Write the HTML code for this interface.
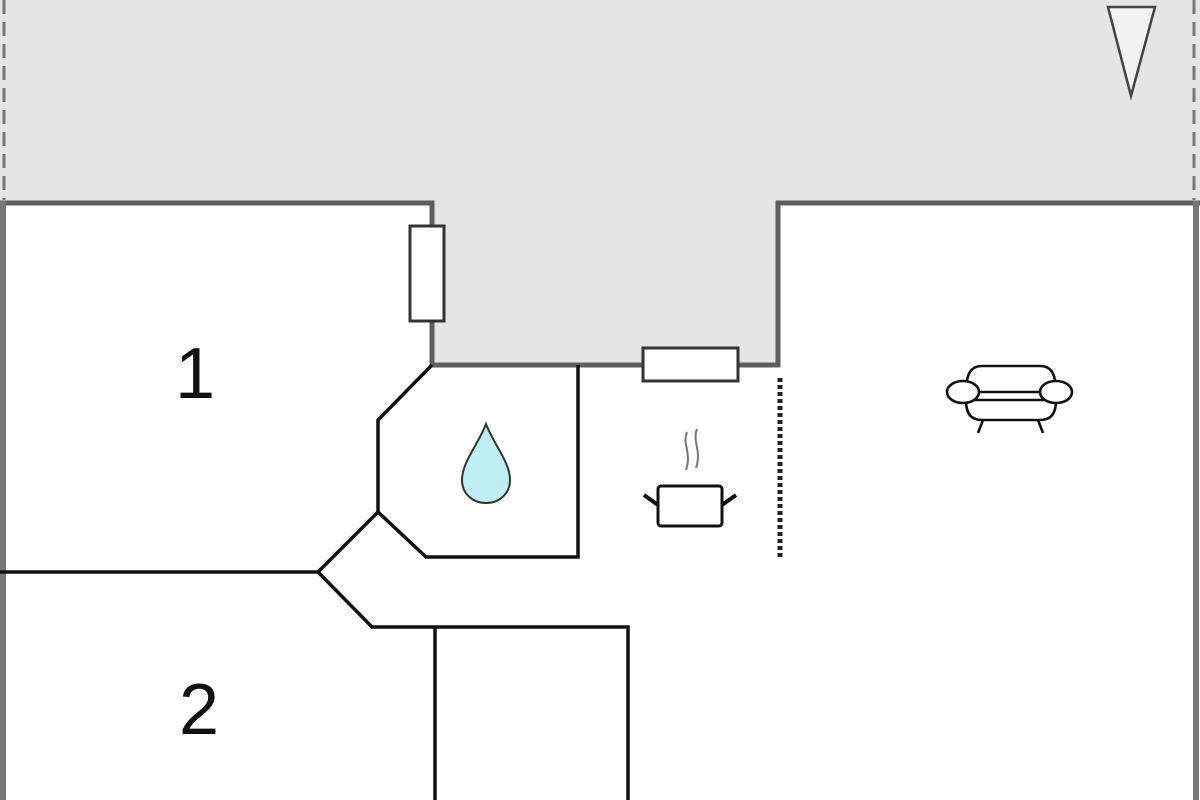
<!DOCTYPE html>
<html><head><meta charset="utf-8"><style>html,body{margin:0;padding:0;background:#fff}svg{display:block}</style></head>
<body>
<svg width="1200" height="800" viewBox="0 0 1200 800" xmlns="http://www.w3.org/2000/svg">
<rect x="0" y="0" width="1200" height="203" fill="#e5e5e5"/>
<rect x="432" y="200" width="346" height="165" fill="#e5e5e5"/>
<!-- dashed outer top edges -->
<line x1="4" y1="0" x2="4" y2="200" stroke="#777" stroke-width="3" stroke-dasharray="14,8"/>
<line x1="1194" y1="0" x2="1194" y2="200" stroke="#777" stroke-width="3" stroke-dasharray="14,8"/>
<!-- outer walls -->
<path d="M0,203 H432 V365 H778 V203 H1200" fill="none" stroke="#5e5e5e" stroke-width="5"/>
<line x1="3" y1="201" x2="3" y2="800" stroke="#777" stroke-width="6"/>
<line x1="1196" y1="201" x2="1196" y2="800" stroke="#777" stroke-width="6"/>
<!-- windows -->
<rect x="410" y="226" width="34" height="95" fill="#fff" stroke="#333" stroke-width="3"/>
<rect x="643" y="348" width="95" height="33" fill="#fff" stroke="#333" stroke-width="3"/>
<!-- bathroom -->
<path d="M432,365 L378,420 V512 L426,557 H578 V365" fill="none" stroke="#111" stroke-width="3.5"/>
<path d="M378,512 L318,572 H0" fill="none" stroke="#111" stroke-width="3.5"/>
<path d="M318,572 L372,627 H628 V800" fill="none" stroke="#111" stroke-width="3.5"/>
<line x1="435" y1="627" x2="435" y2="800" stroke="#111" stroke-width="3.5"/>
<!-- dotted -->
<line x1="780" y1="378" x2="780" y2="558" stroke="#222" stroke-width="5" stroke-dasharray="4,3"/>
<!-- triangle -->
<polygon points="1108,7 1155,7 1131,96" fill="#f2f2f2" stroke="#444" stroke-width="2.5"/>
<!-- numbers -->
<text x="195" y="398" font-family="Liberation Sans, sans-serif" font-size="72" text-anchor="middle" fill="#111">1</text>
<text x="199" y="734" font-family="Liberation Sans, sans-serif" font-size="72" text-anchor="middle" fill="#111">2</text>
<!-- drop -->
<path d="M486,424 C478,445 462,462 462,480 C462,494 473,503 486,503 C499,503 510,494 510,480 C510,462 494,445 486,424 Z" fill="#bfeff5" stroke="#333" stroke-width="2"/>
<!-- pot -->
<rect x="658" y="486" width="64" height="40" rx="3" fill="#fff" stroke="#111" stroke-width="3"/>
<path d="M644,495 L658,505 M736,495 L722,505" stroke="#111" stroke-width="4"/>
<path d="M687,432 C682,445 692,452 686,470 M697,429 C692,442 702,450 696,468" fill="none" stroke="#777" stroke-width="2"/>
<!-- sofa -->
<g fill="#fff" stroke="#111" stroke-width="2.6">
<path d="M966,392 C966,372 972,366 982,366 H1040 C1050,366 1056,372 1056,392 Z"/>
<path d="M966,400 C966,415 972,420 982,420 H1040 C1050,420 1056,415 1056,400 Z"/>
<ellipse cx="963" cy="392" rx="16" ry="11"/>
<ellipse cx="1056" cy="392" rx="16" ry="11"/>
<path d="M983,420 L978,433 M1038,420 L1043,433" fill="none"/>
</g>
</svg>
</body></html>
